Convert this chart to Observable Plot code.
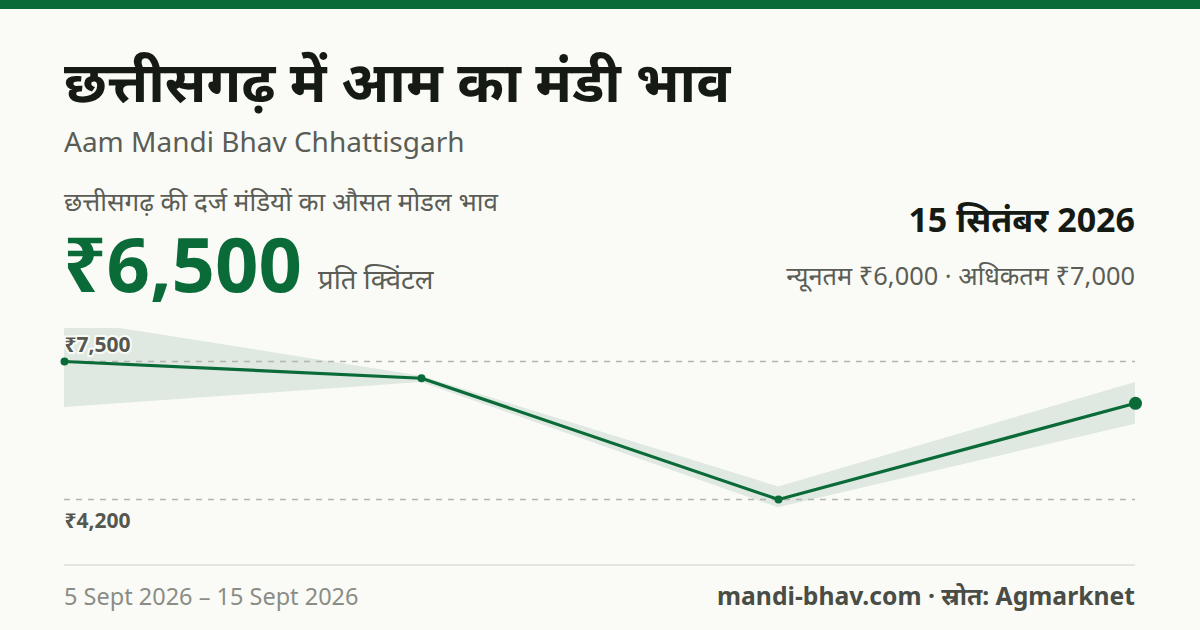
<!DOCTYPE html>
<html>
<head>
<meta charset="utf-8">
<script src="https://cdn.jsdelivr.net/npm/d3@7"></script>
<script src="https://cdn.jsdelivr.net/npm/@observablehq/plot@0.6"></script>
<style>
  html, body { margin: 0; padding: 0; }
  body { width: 1200px; height: 630px; background: #fafbf7; font-family: "Noto Sans", "Noto Sans Devanagari", sans-serif; position: relative; overflow: hidden; }
  .abs { position: absolute; white-space: nowrap; line-height: 1; }
  #bar { left: 0; top: 0; width: 1200px; height: 9px; background: #0b6b38; }
  #title { left: 64px; top: 53px; font-size: 56.4px; font-weight: 700; color: #161a14; }
  #sub { left: 64px; top: 127px; font-size: 28px; color: #5a5d55; }
  #lbl { left: 64px; top: 188px; font-size: 26px; color: #5a5d55; }
  #big { left: 63px; top: 225px; font-size: 76px; font-weight: 700; color: #0b6b38; }
  #unit { left: 318px; top: 265px; font-size: 27.5px; color: #5a5d55; }
  #date { right: 65px; top: 202px; font-size: 34px; font-weight: 700; color: #161a14; }
  #range { right: 65px; top: 263px; font-size: 25.4px; color: #5a5d55; }
  #chart { left: 0; top: 320px; }
  #rule { left: 64px; top: 564px; width: 1071px; height: 2px; background: #e4e6e0; }
  #fl { left: 64px; top: 585px; font-size: 23.5px; color: #8a8d85; }
  #fr { right: 65px; top: 584px; font-size: 24.7px; font-weight: 700; color: #4a4d45; }
</style>
</head>
<body>
<div id="bar" class="abs"></div>
<div id="title" class="abs">छत्तीसगढ़ में आम का मंडी भाव</div>
<div id="sub" class="abs">Aam Mandi Bhav Chhattisgarh</div>
<div id="lbl" class="abs">छत्तीसगढ़ की दर्ज मंडियों का औसत मोडल भाव</div>
<div id="big" class="abs">₹6,500</div>
<div id="unit" class="abs">प्रति क्विंटल</div>
<div id="date" class="abs">15 सितंबर 2026</div>
<div id="range" class="abs">न्यूनतम ₹6,000 · अधिकतम ₹7,000</div>
<div id="chart" class="abs"></div>
<div id="rule" class="abs"></div>
<div id="fl" class="abs">5 Sept 2026 – 15 Sept 2026</div>
<div id="fr" class="abs">mandi-bhav.com · स्रोत: Agmarknet</div>
<script>
const dates = ["5 Sept", "8 Sept", "12 Sept", "15 Sept"];
const modalPrice = [7500, 7100, 4200, 6500];
const minPrice = [6400, 7000, 4000, 6000];
const maxPrice = [8500, 7150, 4500, 7000];
const gridTicks = [7500, 4200];
const gridLabels = ["₹7,500", "₹4,200"];

const rows = dates.map((d, i) => ({date: d, modal: modalPrice[i], min: minPrice[i], max: maxPrice[i]}));
const last = rows[rows.length - 1];
const tickRows = gridTicks.map((v, i) => ({v, label: gridLabels[i]}));

const green = "#0b6b38";
const labelStyle = {x: () => dates[0], y: "v", text: "label", textAnchor: "start", fontSize: 21, fontWeight: 700, fill: "#55584f", stroke: "#fafbf7", strokeWidth: 4, clip: false};
const chart = Plot.plot({
  width: 1200,
  height: 230,
  marginLeft: 64,
  marginRight: 65,
  marginTop: 8,
  marginBottom: 18,
  style: {background: "transparent", fontFamily: "Noto Sans, sans-serif", overflow: "visible"},
  x: {type: "point", domain: dates, padding: 0, axis: null},
  y: {domain: [3411, 8289], axis: null},
  clip: true,
  marks: [
    Plot.areaY(rows, {x: "date", y1: "min", y2: "max", fill: "#dfe9e1", fillOpacity: 1}),
    Plot.ruleY(gridTicks, {stroke: "#b4b5af", strokeWidth: 1.3, strokeDasharray: "6,6"}),
    Plot.lineY(rows, {x: "date", y: "modal", stroke: green, strokeWidth: 3.2}),
    Plot.dot(rows.slice(0, -1), {x: "date", y: "modal", r: 4, fill: green, clip: false}),
    Plot.dot([last], {x: "date", y: "modal", r: 6.5, fill: green, clip: false}),
    Plot.text(tickRows.slice(0, 1), {...labelStyle, dy: -16}),
    Plot.text(tickRows.slice(1), {...labelStyle, dy: 22})
  ]
});
document.getElementById("chart").appendChild(chart);
</script>
</body>
</html>
